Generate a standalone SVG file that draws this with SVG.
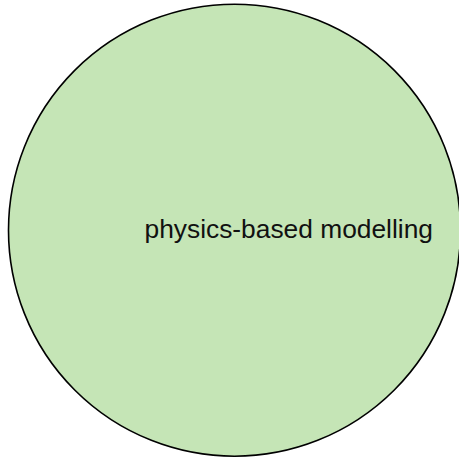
<svg xmlns="http://www.w3.org/2000/svg" width="459" height="458" viewBox="0 0 459 458">
<style>
.node{fill:#c5e5b6;stroke:#000;stroke-width:1.6}
.lbl{font-family:"Liberation Sans",Arial,sans-serif;font-size:26px;fill:#111}
</style>
<rect width="459" height="458" fill="#fff"/>
<g id="connectors"></g>
<g id="node-physics">
<circle class="node" cx="234.5" cy="230.2" r="226"/>
<text class="lbl" x="144.5" y="238" textLength="288.5" lengthAdjust="spacingAndGlyphs">physics-based modelling</text>
</g>
</svg>
